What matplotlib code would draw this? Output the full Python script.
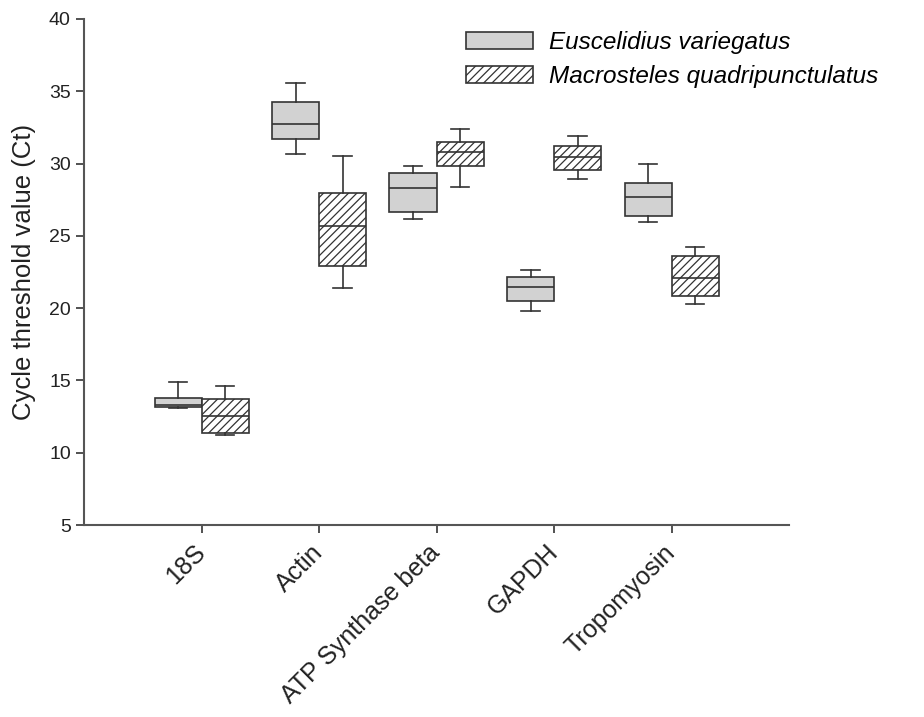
import matplotlib
matplotlib.use("Agg")
import matplotlib.pyplot as plt
from matplotlib.patches import Patch

plt.rcParams['font.family'] = ['Liberation Sans', 'DejaVu Sans']
plt.rcParams['hatch.linewidth'] = 0.9

genes = ['18S', 'Actin', 'ATP Synthase beta', 'GAPDH', 'Tropomyosin']

# Euscelidius variegatus (grey boxes)
ev_whislo = [13.07, 30.68, 26.16, 19.78, 25.98]
ev_q1 = [13.14, 31.67, 26.67, 20.51, 26.37]
ev_med = [13.32, 32.71, 28.33, 21.48, 27.66]
ev_q3 = [13.80, 34.23, 29.32, 22.17, 28.65]
ev_whishi = [14.87, 35.55, 29.80, 22.64, 29.99]

# Macrosteles quadripunctulatus (hatched boxes)
mq_whislo = [11.20, 21.37, 28.37, 28.93, 20.26]
mq_q1 = [11.34, 22.89, 29.80, 29.53, 20.82]
mq_med = [12.52, 25.68, 30.82, 30.45, 22.10]
mq_q3 = [13.69, 27.94, 31.51, 31.21, 23.63]
mq_whishi = [14.61, 30.52, 32.36, 31.90, 24.23]

y_ticks = [5, 10, 15, 20, 25, 30, 35, 40]


def make_stats(lo, q1, med, q3, hi):
    out = []
    for i in range(len(lo)):
        out.append({'whislo': lo[i], 'q1': q1[i], 'med': med[i],
                    'q3': q3[i], 'whishi': hi[i], 'fliers': []})
    return out


line_col = '#333333'
fig = plt.figure(figsize=(9.24, 7.17), dpi=100)
ax = fig.add_axes([84 / 924, 1 - 525 / 717, (789 - 84) / 924, (525 - 19) / 717])

pos = list(range(1, len(genes) + 1))
lp = dict(color=line_col, linewidth=1.2)

ax.bxp(make_stats(ev_whislo, ev_q1, ev_med, ev_q3, ev_whishi),
       positions=[p - 0.2 for p in pos], widths=0.4, capwidths=0.16,
       patch_artist=True, showfliers=False,
       boxprops=dict(facecolor='#d2d2d2', edgecolor=line_col, linewidth=1.2),
       medianprops=lp, whiskerprops=lp, capprops=lp)
ax.bxp(make_stats(mq_whislo, mq_q1, mq_med, mq_q3, mq_whishi),
       positions=[p + 0.2 for p in pos], widths=0.4, capwidths=0.16,
       patch_artist=True, showfliers=False,
       boxprops=dict(facecolor='white', edgecolor=line_col, linewidth=1.2, hatch='////'),
       medianprops=lp, whiskerprops=lp, capprops=lp)

ax.set_xlim(0, 6)
ax.set_ylim(5, 40)
ax.set_xticks(pos)
ax.set_xticklabels(genes, rotation=45, ha='right', va='center',
                   rotation_mode='anchor', fontsize=18)
ax.set_yticks(y_ticks)
ax.tick_params(axis='y', labelsize=14)
ax.tick_params(colors=line_col, labelcolor='#222222', length=6, width=1.2)
ax.tick_params(axis='x', pad=11)
ax.set_ylabel('Cycle threshold value (Ct)', fontsize=18.5, color='#222222', labelpad=9)

for s in ['top', 'right']:
    ax.spines[s].set_visible(False)
for s in ['left', 'bottom']:
    ax.spines[s].set_color('#555555')
    ax.spines[s].set_linewidth(1.5)

handles = [Patch(facecolor='#d2d2d2', edgecolor=line_col, linewidth=1.2),
           Patch(facecolor='white', edgecolor=line_col, linewidth=1.2, hatch='////')]
fig.legend(handles, ['Euscelidius variegatus', 'Macrosteles quadripunctulatus'],
           loc='upper left', bbox_to_anchor=(466 / 924, 1 - 31 / 717),
           frameon=False, borderpad=0, borderaxespad=0,
           handlelength=2.75, handleheight=0.65, handletextpad=0.65,
           labelspacing=0.45, prop=dict(size=17.5, style='italic'))

fig.savefig('out.png', dpi=100)
